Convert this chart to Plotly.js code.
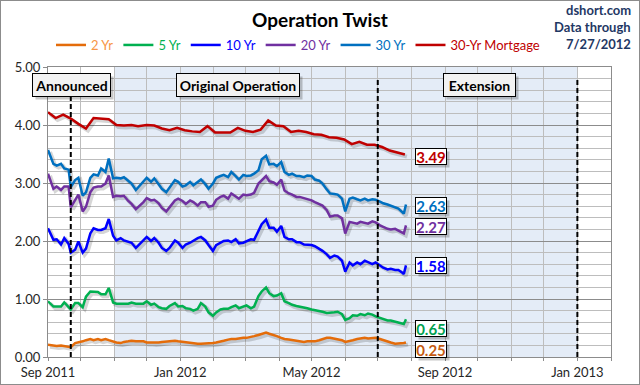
<!DOCTYPE html>
<html>
<head>
<meta charset="utf-8">
<script src="https://cdn.plot.ly/plotly-3.0.1.min.js"></script>
<style>
  html, body { margin: 0; padding: 0; background: #fff; }
  #chart { width: 638px; height: 383px; border: 1px solid #8c8c8c; }
</style>
</head>
<body>
<div id="chart"></div>
<script>
// ---------- data ----------
const seriesNames = ['2 Yr', '5 Yr', '10 Yr', '20 Yr', '30 Yr', '30-Yr Mortgage'];

const dates = ['2011-09-01','2011-09-06','2011-09-09','2011-09-13','2011-09-16','2011-09-20','2011-09-22','2011-09-26','2011-09-29',
'2011-10-03','2011-10-06','2011-10-10','2011-10-13','2011-10-17','2011-10-20','2011-10-24','2011-10-27','2011-10-31',
'2011-11-03','2011-11-07','2011-11-10','2011-11-14','2011-11-17','2011-11-21','2011-11-25','2011-11-28',
'2011-12-01','2011-12-05','2011-12-08','2011-12-12','2011-12-15','2011-12-19','2011-12-22','2011-12-27','2011-12-30',
'2012-01-03','2012-01-06','2012-01-10','2012-01-13','2012-01-17','2012-01-20','2012-01-24','2012-01-27','2012-01-31',
'2012-02-03','2012-02-07','2012-02-10','2012-02-14','2012-02-17','2012-02-21','2012-02-24','2012-02-28',
'2012-03-02','2012-03-06','2012-03-09','2012-03-13','2012-03-16','2012-03-20','2012-03-23','2012-03-27','2012-03-30',
'2012-04-03','2012-04-06','2012-04-10','2012-04-13','2012-04-17','2012-04-20','2012-04-24','2012-04-27',
'2012-05-01','2012-05-04','2012-05-08','2012-05-11','2012-05-15','2012-05-18','2012-05-22','2012-05-25','2012-05-29',
'2012-06-01','2012-06-05','2012-06-08','2012-06-12','2012-06-15','2012-06-19','2012-06-22','2012-06-26','2012-06-29',
'2012-07-03','2012-07-06','2012-07-10','2012-07-13','2012-07-17','2012-07-20','2012-07-24','2012-07-25','2012-07-27'];

const y2yr = [0.21,0.19,0.19,0.20,0.19,0.18,0.17,0.24,0.25,
0.27,0.29,0.31,0.29,0.31,0.29,0.31,0.29,0.26,
0.25,0.24,0.26,0.27,0.28,0.27,0.27,0.27,
0.25,0.25,0.24,0.25,0.26,0.27,0.28,0.28,0.27,
0.26,0.25,0.24,0.24,0.23,0.23,0.23,0.23,0.24,
0.25,0.26,0.28,0.30,0.31,0.31,0.32,0.33,
0.33,0.34,0.36,0.38,0.40,0.42,0.40,0.38,0.36,
0.33,0.31,0.30,0.29,0.28,0.27,0.26,0.27,
0.27,0.27,0.29,0.31,0.33,0.33,0.32,0.31,0.29,
0.26,0.27,0.29,0.31,0.32,0.33,0.32,0.32,0.33,
0.31,0.29,0.26,0.25,0.23,0.23,0.23,0.24,0.25];

const y5yr = [0.96,0.87,0.87,0.87,0.94,0.86,0.82,0.93,0.93,
0.86,1.04,1.13,1.13,1.12,1.08,1.08,1.19,0.94,
0.92,0.92,0.92,0.92,0.94,0.92,0.92,0.92,
0.96,0.90,0.92,0.86,0.84,0.83,0.88,0.93,0.87,
0.88,0.84,0.83,0.80,0.83,0.93,0.87,0.77,0.71,
0.77,0.82,0.83,0.83,0.86,0.89,0.84,0.87,
0.89,0.84,0.87,1.05,1.13,1.20,1.10,1.05,1.06,
1.10,0.96,0.93,0.90,0.88,0.87,0.86,0.84,
0.82,0.81,0.79,0.78,0.76,0.76,0.77,0.78,0.74,
0.64,0.67,0.72,0.71,0.74,0.72,0.75,0.73,0.70,
0.67,0.65,0.63,0.63,0.61,0.60,0.58,0.57,0.65];

const y10yr = [2.22,2.02,2.03,1.94,2.05,1.95,1.80,1.85,1.99,
1.80,1.87,2.13,2.22,2.19,2.19,2.22,2.38,2.09,
2.01,2.05,2.01,1.99,1.97,1.88,1.95,2.00,
2.07,2.00,2.05,1.97,1.88,1.83,1.88,2.01,1.97,
1.88,1.94,1.97,2.01,2.05,2.07,2.01,1.93,1.83,
1.93,1.97,2.00,2.01,1.98,2.03,1.96,1.97,
2.00,2.03,2.02,2.17,2.29,2.37,2.23,2.23,2.16,
2.26,2.07,2.03,2.03,1.98,1.98,1.94,1.94,
1.93,1.91,1.87,1.83,1.77,1.71,1.75,1.73,1.66,
1.47,1.63,1.58,1.63,1.60,1.66,1.63,1.60,1.63,
1.58,1.54,1.51,1.52,1.50,1.50,1.45,1.43,1.58];

const y20yr = [3.16,2.90,2.94,2.88,2.94,2.94,2.58,2.71,2.80,
2.51,2.59,2.84,2.92,2.94,2.94,2.99,3.13,2.76,
2.78,2.77,2.78,2.69,2.64,2.55,2.61,2.67,
2.74,2.70,2.71,2.65,2.57,2.51,2.58,2.70,2.73,
2.69,2.64,2.70,2.67,2.61,2.67,2.67,2.59,2.61,
2.71,2.76,2.78,2.73,2.82,2.76,2.73,2.80,
2.79,2.80,2.83,2.99,3.05,3.12,3.03,3.01,2.97,
3.06,2.87,2.82,2.80,2.76,2.76,2.74,2.72,
2.70,2.67,2.64,2.61,2.53,2.42,2.44,2.44,2.39,
2.13,2.33,2.32,2.30,2.33,2.32,2.30,2.34,2.32,
2.27,2.24,2.21,2.20,2.21,2.18,2.14,2.13,2.27];

const y30yr = [3.57,3.33,3.30,3.33,3.25,3.23,2.93,3.05,3.09,
2.78,2.84,3.09,3.15,3.13,3.25,3.19,3.42,3.08,
3.09,3.08,3.10,3.03,2.99,2.88,2.96,3.03,
3.09,3.02,3.08,2.98,2.90,2.84,2.92,3.05,3.02,
2.94,2.96,3.02,2.96,3.02,3.06,2.98,2.90,2.99,
3.09,3.12,3.14,3.10,3.19,3.12,3.06,3.14,
3.12,3.13,3.16,3.22,3.41,3.47,3.32,3.33,3.29,
3.36,3.19,3.14,3.16,3.12,3.12,3.10,3.13,
3.12,3.06,3.04,2.99,2.89,2.82,2.81,2.80,2.73,
2.51,2.73,2.75,2.72,2.70,2.73,2.70,2.72,2.71,
2.68,2.65,2.63,2.61,2.59,2.56,2.49,2.47,2.63];

const mortgageDates = ['2011-09-01','2011-09-08','2011-09-15','2011-09-22','2011-09-29','2011-10-06','2011-10-13','2011-10-20','2011-10-27',
'2011-11-03','2011-11-10','2011-11-17','2011-11-23','2011-12-01','2011-12-08','2011-12-15','2011-12-22','2011-12-29',
'2012-01-05','2012-01-12','2012-01-19','2012-01-26','2012-02-02','2012-02-09','2012-02-16','2012-02-23',
'2012-03-01','2012-03-08','2012-03-15','2012-03-22','2012-03-29','2012-04-05','2012-04-12','2012-04-19','2012-04-26',
'2012-05-03','2012-05-10','2012-05-17','2012-05-24','2012-05-31','2012-06-07','2012-06-14','2012-06-21','2012-06-28',
'2012-07-05','2012-07-12','2012-07-19','2012-07-26'];

const yMortgage = [4.22,4.12,4.18,4.11,4.02,3.94,4.12,4.11,4.10,
4.00,3.99,4.00,3.98,4.00,3.99,3.94,3.91,3.95,
3.91,3.89,3.88,3.98,3.87,3.87,3.87,3.95,
3.90,3.88,3.92,4.08,3.99,3.98,3.88,3.90,3.88,
3.84,3.83,3.79,3.78,3.75,3.67,3.71,3.66,3.66,
3.62,3.56,3.53,3.49];

const eventDates = ['2011-09-22', '2012-07-01', '2013-01-01'];
const eventLabels = ['Announced', 'Original Operation', 'Extension'];
const shadeStart = '2011-11-01', shadeEnd = '2013-01-01';
const yTickVals = [0, 1, 2, 3, 4, 5];

// ---------- styling ----------
const lineColors = ['#E46C0A', '#00B050', '#0000FF', '#7030A0', '#0070C0', '#C00000'];
const legendTextColors = ['#F79646', '#00B050', '#0000FF', '#7030A0', '#0070C0', '#C00000'];
const labelTextColors = ['#C55A11', '#00A050', '#0000FF', '#7030A0', '#0070C0', '#C00000'];
const FONT = 'Lato, "Open Sans", Arial, sans-serif';

const xs = [dates, dates, dates, dates, dates, mortgageDates];
const ys = [y2yr, y5yr, y10yr, y20yr, y30yr, yMortgage];

const t0 = Date.UTC(2011, 8, 1), t1 = Date.UTC(2013, 1, 1);
const plotW = 563, plotH = 290;
const dxMs = 2 * (t1 - t0) / plotW;
const dyV = 2 * 5 / plotH;

const traces = [];
// shadows on base axes (shifted range -> drawn 2px right/down)
for (let i = 0; i < 6; i++) {
  traces.push({
    x: xs[i], y: ys[i], type: 'scatter', mode: 'lines',
    xaxis: 'x', yaxis: 'y', showlegend: false, hoverinfo: 'skip',
    line: {color: 'rgba(0,0,0,0.16)', width: 4}
  });
}
for (let i = 0; i < 6; i++) {
  traces.push({
    x: xs[i], y: ys[i], type: 'scatter', mode: 'lines',
    xaxis: 'x2', yaxis: 'y2',
    name: '<span style="color:' + legendTextColors[i] + '">' + seriesNames[i] + '</span>',
    line: {color: lineColors[i], width: 2.5}
  });
}

// plot area pixel -> paper helpers
const px = p => (p - 48) / plotW;
const py = p => (357 - p) / plotH;

const annotations = [];
// event boxes
const boxCenters = [71.5, 238, 479];
const boxWidths = [73, 118, 67];
eventLabels.forEach((t, i) => {
  annotations.push({
    xref: 'paper', yref: 'paper', x: px(boxCenters[i] + 3), y: py(85 + 3),
    text: ' ', showarrow: false, width: boxWidths[i], height: 18, borderpad: 2,
    bgcolor: 'rgba(0,0,0,0.22)', borderwidth: 1, bordercolor: 'rgba(0,0,0,0)',
    xanchor: 'center', yanchor: 'middle'
  });
  annotations.push({
    xref: 'paper', yref: 'paper', x: px(boxCenters[i]), y: py(85),
    text: '<b>' + t + '</b>', showarrow: false, width: boxWidths[i], height: 18, borderpad: 2,
    bgcolor: '#F2F2F2', bordercolor: '#000', borderwidth: 1,
    font: {family: FONT, size: 14, color: '#000'}, xanchor: 'center', yanchor: 'middle'
  });
});
// last-value labels
const labelY = [349.5, 328, 265.5, 226.7, 205, 156];
for (let i = 0; i < 6; i++) {
  const v = ys[i][ys[i].length - 1].toFixed(2);
  annotations.push({
    xref: 'paper', yref: 'paper', x: px(431 + 3), y: py(labelY[i] + 3),
    text: ' ', showarrow: false, width: 30, height: 15, borderpad: 0,
    bgcolor: 'rgba(0,0,0,0.22)', borderwidth: 1, bordercolor: 'rgba(0,0,0,0)',
    xanchor: 'center', yanchor: 'middle'
  });
  annotations.push({
    xref: 'paper', yref: 'paper', x: px(431), y: py(labelY[i]),
    text: '<b>' + v + '</b>', showarrow: false, width: 30, height: 15, borderpad: 0,
    bgcolor: '#FFFFFF', bordercolor: '#000', borderwidth: 1,
    font: {family: FONT, size: 15, color: labelTextColors[i]}, xanchor: 'center', yanchor: 'middle'
  });
}
// source text
const srcLines = ['dshort.com', 'Data through', '7/27/2012'];
const srcY = [10, 27, 44];
srcLines.forEach((t, i) => {
  annotations.push({
    xref: 'paper', yref: 'paper', x: px(633), y: py(srcY[i]),
    text: '<b>' + t + '</b>', showarrow: false, xanchor: 'right', yanchor: 'middle',
    font: {family: FONT, size: 13, color: '#1F3864'}
  });
});

const shapes = [{
  type: 'rect', xref: 'x2', yref: 'paper', x0: shadeStart, x1: shadeEnd, y0: 0, y1: 1,
  fillcolor: '#E4ECF7', line: {width: 0}, layer: 'below'
}];
eventDates.forEach(d => {
  shapes.push({
    type: 'line', xref: 'x2', yref: 'y2', x0: d, x1: d, y0: 0, y1: 4.78,
    line: {color: '#000', width: 2, dash: '5px,3px'}, layer: 'above'
  });
});

function xsStr(t) { return new Date(t).toISOString().slice(0, 10); }

const layout = {
  width: 638, height: 383,
  margin: {l: 47, r: 28, t: 66, b: 27},
  paper_bgcolor: '#fff', plot_bgcolor: 'rgba(0,0,0,0)',
  font: {family: FONT, size: 13, color: '#262626'},
  title: {text: '<b>Operation Twist</b>', font: {family: FONT, size: 19, color: '#000'},
          xref: 'container', x: 0.5, xanchor: 'center', yref: 'container', y: 1 - 19 / 383, yanchor: 'middle'},
  showlegend: true,
  legend: {orientation: 'h', x: px(51), xanchor: 'left', y: py(45), yanchor: 'middle',
           font: {family: FONT, size: 13}, bgcolor: 'rgba(0,0,0,0)', itemwidth: 30, traceorder: 'normal'},
  xaxis: {type: 'date', range: [t0 - dxMs, t1 - dxMs], visible: false, fixedrange: true},
  yaxis: {range: [0 + dyV, 5 + dyV], visible: false, fixedrange: true},
  xaxis2: {type: 'date', overlaying: 'x', anchor: 'y2', range: [xsStr(t0), xsStr(t1)],
           tick0: '2011-09-01', dtick: 'M4', tickformat: '%b %Y',
           showgrid: true, gridcolor: '#BDBDBD', gridwidth: 1,
           minor: {dtick: 'M1', tick0: '2011-09-01', showgrid: true, gridcolor: '#BDBDBD', gridwidth: 1, ticks: 'outside', ticklen: 3, tickcolor: '#8c8c8c'},
           ticks: 'outside', ticklen: 3, tickcolor: '#8c8c8c',
           showline: true, linecolor: '#8c8c8c', mirror: true, zeroline: false,
           tickfont: {family: FONT, size: 13, color: '#262626'}},
  yaxis2: {overlaying: 'y', anchor: 'x2', range: [0, 5], tickvals: yTickVals, tickformat: '.2f',
           showgrid: true, gridcolor: '#8c8c8c', gridwidth: 1,
           minor: {dtick: 0.2, showgrid: true, gridcolor: '#BDBDBD', gridwidth: 1},
           ticks: 'outside', ticklen: 4, tickcolor: '#8c8c8c',
           showline: true, linecolor: '#8c8c8c', mirror: true, zeroline: false,
           tickfont: {family: FONT, size: 13, color: '#262626'}},
  annotations: annotations,
  shapes: shapes
};

Plotly.newPlot('chart', traces, layout, {staticPlot: true, displayModeBar: false});
</script>
</body>
</html>
